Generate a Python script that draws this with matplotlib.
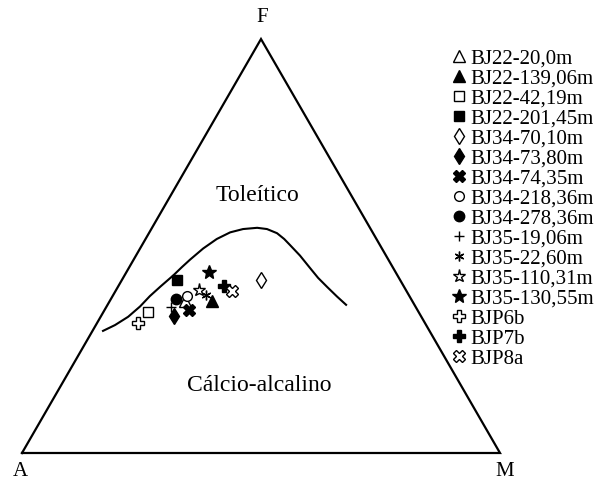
import numpy as np
import matplotlib
matplotlib.use("Agg")
import matplotlib.pyplot as plt

plt.rcParams['font.family'] = ['Liberation Serif', 'DejaVu Serif']

# ---- data (ternary percentages A, F, M) ----
samples = ["BJ22-20,0m", "BJ22-139,06m", "BJ22-42,19m", "BJ22-201,45m",
           "BJ34-70,10m", "BJ34-73,80m", "BJ34-74,35m", "BJ34-218,36m",
           "BJ34-278,36m", "BJ35-19,06m", "BJ35-22,60m", "BJ35-110,31m",
           "BJ35-130,55m", "BJP6b", "BJP7b", "BJP8a"]
A_vals = [47.6, 41.8, 56.6, 46.7, 29.1, 51.6, 47.8, 46.5, 49.3, 51.2, 42.5, 43.4, 38.9, 60.0, 37.6, 36.5]
F_vals = [36.6, 36.8, 34.0, 41.8, 41.8, 33.1, 34.5, 37.9, 37.1, 35.2, 38.2, 39.3, 43.8, 31.3, 40.3, 39.2]
M_vals = [15.8, 21.4, 9.4, 11.5, 29.1, 15.3, 17.7, 15.6, 13.6, 13.6, 19.3, 17.3, 17.3, 8.7, 22.1, 24.3]

# Tholeiitic / calc-alkaline boundary
curve_F = [29.5, 30.9, 32.9, 35.4, 37.9, 40.3, 42.9, 44.9, 46.7, 49.4, 51.7, 53.3, 54.1, 54.4,
           54.1, 53.1, 51.7, 50.2, 47.7, 44.7, 42.3, 40.1, 37.8, 35.8]
curve_M = [2.2, 4.0, 5.75, 7.0, 7.8, 8.9, 10.2, 11.0, 11.8, 13.2, 14.9, 16.9, 19.2, 22.0,
           24.2, 26.8, 29.0, 31.0, 34.3, 37.9, 40.8, 43.8, 47.0, 49.9]

vertex_labels = ["A", "F", "M"]
field_labels = ["Toleítico", "Cálcio-alcalino"]

# marker styles: (marker, filled, size)
styles = [("^", False, 8), ("^", True, 8), ("s", False, 7), ("s", True, 7),
          ("d", False, 8.5), ("d", True, 8.5), ("X", True, 8), ("o", False, 7),
          ("o", True, 7.5), ("+", False, 7), ((6, 2, 0), False, 7), ("*", False, 9.5),
          ("*", True, 10), ("P", False, 8), ("P", True, 8), ("X", False, 8)]


def tern(F, M):
    F = np.asarray(F, float) / 100.0
    M = np.asarray(M, float) / 100.0
    return M + F / 2.0, F * np.sqrt(3) / 2.0


fig = plt.figure(figsize=(5.99, 4.80), dpi=100)
ax = fig.add_axes([0, 0, 1, 1])
ax.set_xlim(-22 / 478, 577 / 478)
ax.set_ylim(-27 / 478, 453 / 478)
ax.set_aspect('equal')
ax.axis('off')

# triangle
tri_F = [0, 100, 0, 0]
tri_M = [0, 0, 100, 0]
tx, ty = tern(tri_F, tri_M)
ax.plot(tx, ty, color='black', lw=1.6, solid_joinstyle='miter')

# boundary curve
cx, cy = tern(curve_F, curve_M)
ax.plot(cx, cy, color='black', lw=1.5, solid_joinstyle='round')

# samples
for name, a, f, m, (mk, filled, ms) in zip(samples, A_vals, F_vals, M_vals, styles):
    x, y = tern(f, m)
    if mk in ("+",) or isinstance(mk, tuple):
        ax.plot([x], [y], linestyle='none', marker=mk, color='black', ms=ms, mew=1.0, label=name)
    else:
        ax.plot([x], [y], linestyle='none', marker=mk, ms=ms,
                markerfacecolor='black' if filled else 'white',
                markeredgecolor='black', mew=1.0, label=name)

# vertex labels
vx, vy = tern([0, 100, 0], [0, 0, 100])
ax.text(vx[0] - 0.004, vy[0] - 0.048, vertex_labels[0], ha='center', va='baseline', fontsize=15)
ax.text(vx[1] + 0.002, vy[1] + 0.035, vertex_labels[1], ha='center', va='baseline', fontsize=15)
ax.text(vx[2] + 0.01, vy[2] - 0.048, vertex_labels[2], ha='center', va='baseline', fontsize=15)

# field labels
ax.text(0.493, 0.539, field_labels[0], ha='center', va='center', fontsize=17)
ax.text(0.497, 0.142, field_labels[1], ha='center', va='center', fontsize=17)

leg = ax.legend(loc='upper left', bbox_to_anchor=(453 / 599, 1 - 49 / 480),
                bbox_transform=fig.transFigure, frameon=False, fontsize=15,
                handlelength=0.6, handletextpad=0.25, borderpad=0, borderaxespad=0,
                labelspacing=0.02, numpoints=1)

fig.savefig("out.png", dpi=100)
